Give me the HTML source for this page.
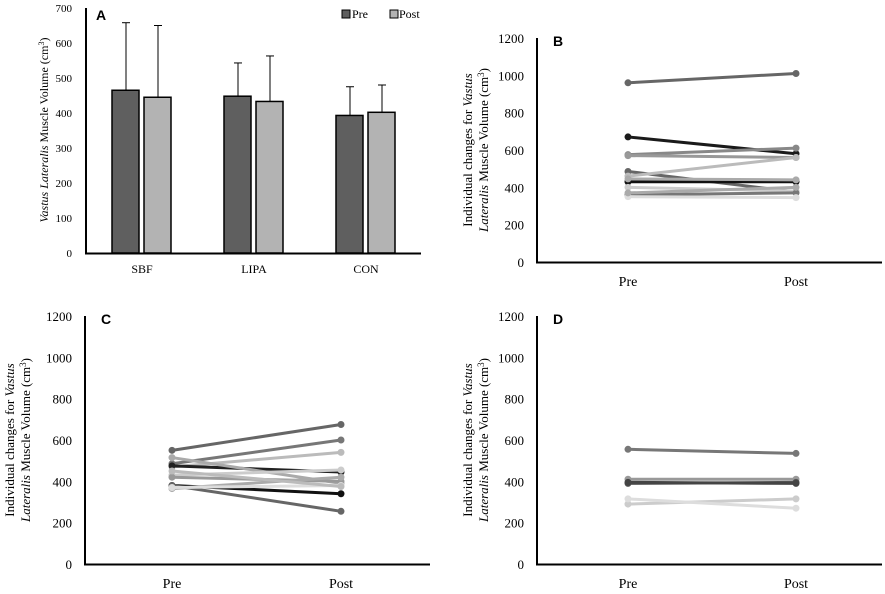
<!DOCTYPE html>
<html><head><meta charset="utf-8"><style>
body{margin:0;background:#fff;}
svg{display:block;font-family:"Liberation Serif",serif;}
.lbl{font-family:"Liberation Sans",sans-serif;font-weight:bold;font-size:14px;}
</style></head><body>
<svg id="c" width="885" height="594" xmlns="http://www.w3.org/2000/svg"></svg>
<script>
const groups=["SBF","LIPA","CON"];
const preMeans=[465,448,393];
const postMeans=[445,433,402];
const preErr=[193,95,82];
const postErr=[205,130,78];
const aTicks=[0,100,200,300,400,500,600,700];
const lineTicks=[0,200,400,600,800,1000,1200];
const bPre=[960,670,575,570,485,460,430,445,400,360,350,370];
const bPost=[1010,580,610,560,375,560,430,440,380,370,345,400];
const cPre=[550,485,470,475,515,430,420,380,380,365,370,450];
const cPost=[675,600,540,445,390,455,400,340,255,420,380,375];
const dPre=[555,410,390,395,290,315];
const dPost=[535,410,395,390,315,270];
const colors=["#666","#1a1a1a","#888","#999","#666","#bbb","#111","#aaa","#ccc","#777","#ddd","#aaa"];
const cColors=["#666","#777","#bbb","#222","#aaa","#ccc","#999","#111","#666","#aaa","#ddd","#bbb"];
const dColors=["#777","#999","#555","#444","#ccc","#ddd"];
const svg=document.getElementById('c');
const NS="http://www.w3.org/2000/svg";
function mk(t,a,txt){const e=document.createElementNS(NS,t);for(const k in a)e.setAttribute(k,a[k]);if(txt!==undefined)e.textContent=txt;svg.appendChild(e);return e;}

const ay=v=>253-v*0.35;
let e=mk('line',{x1:86,y1:8,x2:86,y2:254,stroke:'#000','stroke-width':2});

e=mk('line',{x1:85,y1:253.5,x2:421,y2:253.5,stroke:'#000','stroke-width':2});

aTicks.forEach(t=>{e=mk('text',{x:72,y:ay(t)+4,'text-anchor':'end','font-size':11},t);
});
const gx=[142,254,366];
groups.forEach((g,i)=>{
 [[preMeans,preErr,-30,'#5f5f5f'],[postMeans,postErr,2,'#b3b3b3']].forEach(([m,er,off,col],j)=>{
  const x=gx[i]+off;
  e=mk('line',{x1:x+14,y1:ay(m[i]),x2:x+14,y2:ay(m[i]+er[i]),stroke:'#000','stroke-width':1});
  
  e=mk('line',{x1:x+10,y1:ay(m[i]+er[i]),x2:x+18,y2:ay(m[i]+er[i]),stroke:'#000','stroke-width':1});
  
  e=mk('rect',{x:x,y:ay(m[i]),width:27,height:m[i]*0.35,fill:col,stroke:'#000','stroke-width':1.5});
  
 });
 e=mk('text',{x:gx[i],y:273,'text-anchor':'middle','font-size':12},g);
 
});
e=mk('text',{x:96,y:20,class:'lbl'},'A');
e=mk('rect',{x:342,y:10,width:8,height:8,fill:'#5f5f5f',stroke:'#000'});
e=mk('text',{x:352,y:18,'font-size':12},'Pre');
e=mk('rect',{x:390,y:10,width:8,height:8,fill:'#b3b3b3',stroke:'#000'});
e=mk('text',{x:399,y:18,'font-size':12},'Post');
e=mk('text',{transform:'translate(48,130) rotate(-90)','text-anchor':'middle','font-size':12});
e.innerHTML='<tspan font-style="italic">Vastus Lateralis</tspan> Muscle Volume  (cm<tspan dy="-4" font-size="8">3</tspan><tspan dy="4">)</tspan>';


function linePanel(id,ax,y0,span,preX,postX,pre,post,cols,titleX,label){
 const y=v=>y0-v*span/1200;
 let e=mk('line',{x1:ax,y1:y(1200),x2:ax,y2:y0+1,stroke:'#000','stroke-width':2});
 
 e=mk('line',{x1:ax-1,y1:y0+0.5,x2:ax+345,y2:y0+0.5,stroke:'#000','stroke-width':2});
 
 lineTicks.forEach(t=>{e=mk('text',{x:ax-13,y:y(t)+5,'text-anchor':'end','font-size':13},t);
  });
 pre.forEach((p,i)=>{
  e=mk('line',{x1:preX,y1:y(p),x2:postX,y2:y(post[i]),stroke:cols[i],'stroke-width':3});
  
  e=mk('circle',{cx:preX,cy:y(p),r:3.5,fill:cols[i]});
  
  e=mk('circle',{cx:postX,cy:y(post[i]),r:3.5,fill:cols[i]});
  
 });
 e=mk('text',{x:preX,y:y0+24,'text-anchor':'middle','font-size':14},'Pre');
 
 e=mk('text',{x:postX,y:y0+24,'text-anchor':'middle','font-size':14},'Post');
 
 e=mk('text',{x:ax+16,y:y(1200)+8,class:'lbl'},label);
 
 const cy=y(600);
 e=mk('text',{transform:`translate(${titleX},${cy}) rotate(-90)`,'text-anchor':'middle','font-size':13});
 e.innerHTML='Individual  changes for <tspan font-style="italic">Vastus</tspan>';
 
 e=mk('text',{transform:`translate(${titleX+16},${cy}) rotate(-90)`,'text-anchor':'middle','font-size':13});
 e.innerHTML='<tspan font-style="italic">Lateralis</tspan> Muscle Volume  (cm<tspan dy="-4" font-size="9">3</tspan><tspan dy="4">)</tspan>';
 
}
linePanel('b',537,262,224,628,796,bPre,bPost,colors,472,'B');
linePanel('c',85,564,248,172,341,cPre,cPost,cColors,14,'C');
linePanel('d',537,564,248,628,796,dPre,dPost,dColors,472,'D');
</script>
</body></html>
